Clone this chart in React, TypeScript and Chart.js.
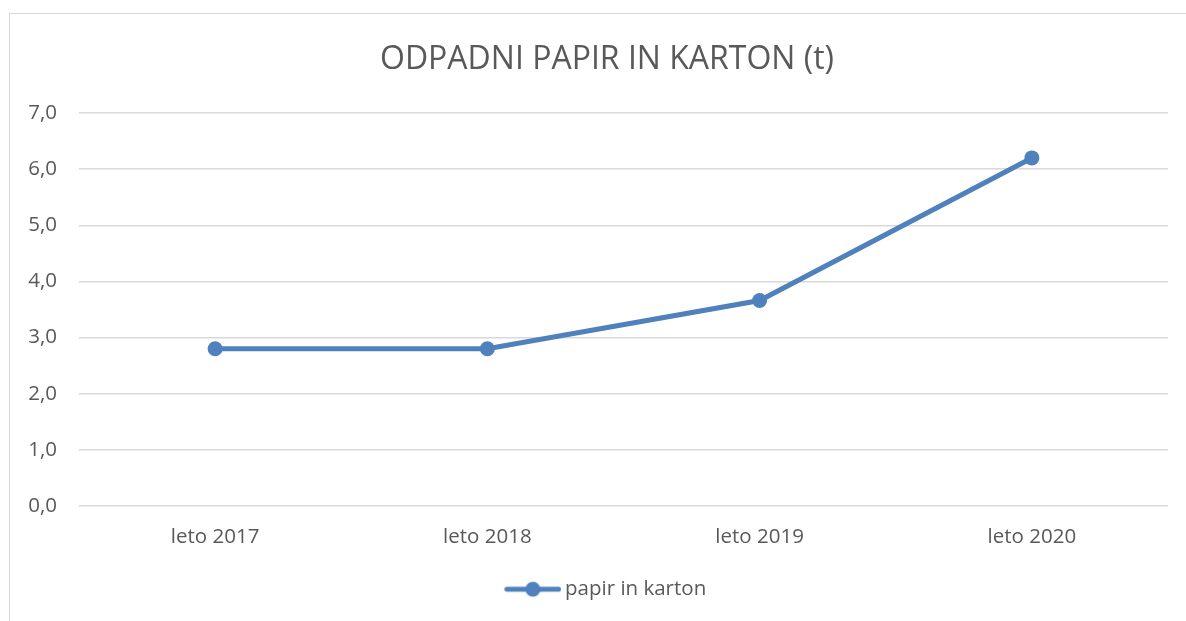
import React, { useEffect, useRef } from "react";
import { Chart, registerables } from "chart.js";

Chart.register(...registerables);

const categories = ["leto 2017", "leto 2018", "leto 2019", "leto 2020"];
const seriesName = "papir in karton";
const values = [2.8, 2.8, 3.66, 6.2];
const titleText = "ODPADNI PAPIR IN KARTON (t)";
const yMin = 0;
const yMax = 7;
const yStep = 1;

const BLUE = "#4F81BD";
const TEXT = "#595959";
const FONT = "'Open Sans', 'Noto Sans', sans-serif";

function makeLegendIcon(): HTMLCanvasElement {
  const c = document.createElement("canvas");
  c.width = 60;
  c.height = 18;
  const ctx = c.getContext("2d")!;
  ctx.strokeStyle = BLUE;
  ctx.lineWidth = 5;
  ctx.lineCap = "round";
  ctx.beginPath();
  ctx.moveTo(5.6, 9);
  ctx.lineTo(57.4, 9);
  ctx.stroke();
  ctx.fillStyle = BLUE;
  ctx.beginPath();
  ctx.arc(31.6, 9, 7.5, 0, Math.PI * 2);
  ctx.fill();
  return c;
}

export default function App() {
  const ref = useRef<HTMLCanvasElement | null>(null);

  useEffect(() => {
    if (!ref.current) return;
    const icon = makeLegendIcon();
    const chart = new Chart(ref.current, {
      type: "line",
      data: {
        labels: categories,
        datasets: [
          {
            label: seriesName,
            data: values,
            borderColor: BLUE,
            backgroundColor: BLUE,
            borderWidth: 5,
            pointRadius: 7.5,
            pointBackgroundColor: BLUE,
            pointBorderWidth: 0,
            tension: 0,
            yAxisID: "y",
          },
        ],
      },
      options: {
        responsive: false,
        animation: false,
        layout: { padding: { left: 0, right: 18, top: 0, bottom: 11.5 } },
        plugins: {
          tooltip: { enabled: false },
          title: {
            display: true,
            text: titleText,
            color: TEXT,
            font: { family: FONT, size: 32, weight: "normal", lineHeight: 1.2 },
            padding: { top: 41, bottom: 33.6 },
          },
          legend: {
            display: true,
            position: "bottom",
            labels: {
              color: TEXT,
              font: { family: FONT, size: 20.5 },
              usePointStyle: true,
              pointStyleWidth: 47,
              padding: 10,
              generateLabels: (ch: any) =>
                ch.data.datasets.map((ds: any, i: number) => ({
                  text: ds.label,
                  fillStyle: BLUE,
                  strokeStyle: BLUE,
                  lineWidth: 0,
                  pointStyle: icon,
                  hidden: false,
                  datasetIndex: i,
                  fontColor: TEXT,
                })),
            },
          },
        },
        scales: {
          x: {
            offset: true,
            grid: { display: false, drawTicks: false },
            border: { display: false },
            ticks: {
              color: TEXT,
              font: { family: FONT, size: 20.5 },
              padding: 19,
            },
            afterFit: (s: any) => {
              s.height = 63;
            },
          },
          y: {
            position: "left",
            min: yMin,
            max: yMax,
            grid: { color: "#D9D9D9", lineWidth: 1.5, drawTicks: false },
            border: { display: false },
            ticks: {
              stepSize: yStep,
              color: TEXT,
              font: { family: FONT, size: 20.5 },
              padding: 22,
              callback: (v: any) => Number(v).toFixed(1).replace(".", ","),
            },
            afterFit: (s: any) => {
              s.width = 79;
            },
          },
          spacer: {
            position: "right",
            display: true,
            grid: { display: false, drawTicks: false },
            border: { display: false },
            ticks: { display: false },
            afterFit: (s: any) => {
              s.width = 46;
            },
          },
        },
      },
    });
    return () => chart.destroy();
  }, []);

  return (
    <div
      style={{
        position: "fixed",
        left: 0,
        top: 0,
        width: 1186,
        height: 621,
        background: "#fff",
        overflow: "hidden",
      }}
    >
      <div
        style={{
          position: "absolute",
          left: 9,
          top: 13,
          width: 1300,
          height: 700,
          borderLeft: "1.5px solid #D9D9D9",
          borderTop: "1.5px solid #D9D9D9",
        }}
      />
      <canvas
        ref={ref}
        width={1232}
        height={621}
        style={{ position: "absolute", left: 0, top: 0 }}
      />
    </div>
  );
}
